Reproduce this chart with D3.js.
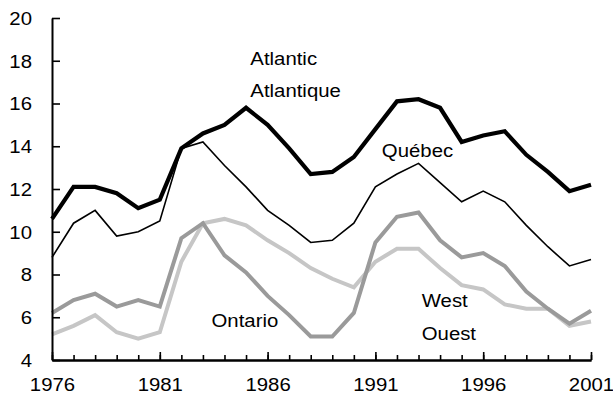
<!DOCTYPE html>
<html>
<head>
<meta charset="utf-8">
<script src="https://cdn.jsdelivr.net/npm/d3@7"></script>
<style>
  html, body { margin: 0; padding: 0; background: #fff; }
  svg { display: block; font-family: "Liberation Sans", Arial, sans-serif; }
</style>
</head>
<body>
<svg id="chart" width="613" height="410"></svg>
<script>
// Annual series, 1976–2001
const years = [1976, 1977, 1978, 1979, 1980, 1981, 1982, 1983, 1984, 1985, 1986, 1987, 1988,
               1989, 1990, 1991, 1992, 1993, 1994, 1995, 1996, 1997, 1998, 1999, 2000, 2001];
const atlantic = [10.6, 12.1, 12.1, 11.8, 11.1, 11.5, 13.9, 14.6, 15.0, 15.8, 15.0, 13.9, 12.7,
                  12.8, 13.5, 14.8, 16.1, 16.2, 15.8, 14.2, 14.5, 14.7, 13.6, 12.8, 11.9, 12.2];
const quebec = [8.8, 10.4, 11.0, 9.8, 10.0, 10.5, 13.9, 14.2, 13.1, 12.1, 11.0, 10.3, 9.5,
                9.6, 10.4, 12.1, 12.7, 13.2, 12.3, 11.4, 11.9, 11.4, 10.3, 9.3, 8.4, 8.7];
const ontario = [6.2, 6.8, 7.1, 6.5, 6.8, 6.5, 9.7, 10.4, 8.9, 8.1, 7.0, 6.1, 5.1,
                 5.1, 6.2, 9.5, 10.7, 10.9, 9.6, 8.8, 9.0, 8.4, 7.2, 6.4, 5.7, 6.3];
const west = [5.2, 5.6, 6.1, 5.3, 5.0, 5.3, 8.6, 10.4, 10.6, 10.3, 9.6, 9.0, 8.3,
              7.8, 7.4, 8.6, 9.2, 9.2, 8.3, 7.5, 7.3, 6.6, 6.4, 6.4, 5.6, 5.8];
const yTicks = [4, 6, 8, 10, 12, 14, 16, 18, 20];
const xLabelYears = [1976, 1981, 1986, 1991, 1996, 2001];

const svg = d3.select("#chart");
const x = d3.scaleLinear().domain([1976, 2001]).range([52, 591]);
const y = d3.scaleLinear().domain([4, 20]).range([360, 18]);
const FS = 18.5, SX = 1.1;

// Series lines, drawn back to front
const line = vals => d3.line().x((d, i) => x(years[i])).y(d => y(d))(vals);
const series = [
  { vals: west,     color: "#c6c6c6", width: 4 },
  { vals: ontario,  color: "#9a9a9a", width: 4 },
  { vals: quebec,   color: "#000",    width: 1.6 },
  { vals: atlantic, color: "#000",    width: 4.2 }
];
svg.append("g").selectAll("path").data(series).join("path")
  .attr("d", s => line(s.vals))
  .attr("fill", "none")
  .attr("stroke", s => s.color)
  .attr("stroke-width", s => s.width)
  .attr("stroke-linejoin", "miter");

// Y axis with inward ticks
const yAxis = svg.append("g").attr("transform", `translate(${x(1976)},0)`)
  .call(d3.axisLeft(y).tickValues(yTicks).tickSizeInner(-8).tickSizeOuter(0).tickPadding(20));
yAxis.selectAll("text")
  .attr("x", 0).attr("dy", "0.35em")
  .attr("transform", "translate(-20,0) scale(" + SX + ",1)")
  .attr("font-size", FS).attr("font-family", null).attr("fill", "#000");

// X axis: yearly minor ticks, 5-year major ticks with labels
const xMinor = svg.append("g").attr("transform", `translate(0,${y(4)})`)
  .call(d3.axisBottom(x).tickValues(years).tickSizeInner(-5).tickSizeOuter(0).tickFormat(""));
const xMajor = svg.append("g").attr("transform", `translate(0,${y(4)})`)
  .call(d3.axisBottom(x).tickValues(xLabelYears).tickSizeInner(-8).tickSizeOuter(0).tickFormat(d3.format("d")));
xMajor.selectAll("text")
  .attr("y", 0).attr("dy", 0)
  .attr("transform", "translate(0,31) scale(" + SX + ",1)")
  .attr("font-size", FS).attr("font-family", null).attr("fill", "#000");

[yAxis, xMinor, xMajor].forEach(g => {
  g.select(".domain").attr("stroke", "#000").attr("stroke-width", 2);
  g.selectAll(".tick line").attr("stroke", "#000").attr("stroke-width", 1.6);
});

// Series labels
const labels = [
  { text: "Atlantic",   yr: 1985.2, v: 17.8 },
  { text: "Atlantique", yr: 1985.2, v: 16.3 },
  { text: "Québec",     yr: 1991.3, v: 13.5 },
  { text: "Ontario",    yr: 1983.4, v: 5.53 },
  { text: "West",       yr: 1993.15, v: 6.47 },
  { text: "Ouest",      yr: 1993.15, v: 4.94 }
];
svg.append("g").selectAll("text").data(labels).join("text")
  .attr("transform", d => `translate(${x(d.yr)},${y(d.v)}) scale(${SX},1)`)
  .attr("font-size", FS)
  .attr("fill", "#000")
  .text(d => d.text);
</script>
</body>
</html>
